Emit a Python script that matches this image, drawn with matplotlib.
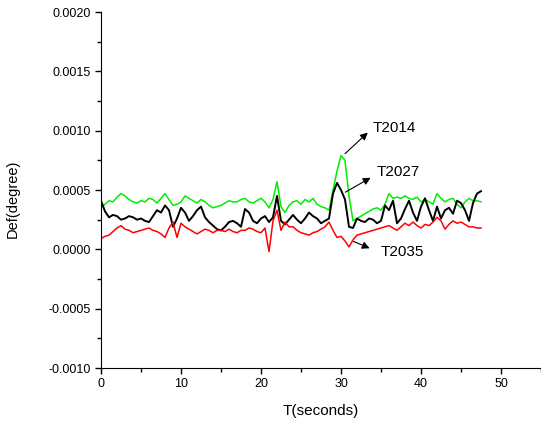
import numpy as np
import matplotlib
matplotlib.use('Agg')
from matplotlib import pyplot as plt
from matplotlib.ticker import MultipleLocator, FormatStrFormatter

plt.rcParams.update({'font.family': ['Liberation Sans', 'DejaVu Sans']})

# time axis (seconds), one reading every 0.5 s
t = np.arange(0, 48, 0.5)

# deflection readings (degree)
t2014 = [0.00035, 0.00038, 0.00041, 0.00040, 0.00044, 0.00047, 0.00045, 0.00042,
         0.00040, 0.00039, 0.00041, 0.00040, 0.00043, 0.00042, 0.00039, 0.00043,
         0.00047, 0.00042, 0.00037, 0.00038, 0.00040, 0.00045, 0.00043, 0.00041,
         0.00039, 0.00042, 0.00040, 0.00037, 0.00035, 0.00036, 0.00037, 0.00039,
         0.00041, 0.00040, 0.00040, 0.00042, 0.00043, 0.00040, 0.00039, 0.00041,
         0.00043, 0.00040, 0.00035, 0.00042, 0.00057, 0.00036, 0.00031, 0.00037,
         0.00040, 0.00041, 0.00038, 0.00042, 0.00040, 0.00043, 0.00038, 0.00036,
         0.00035, 0.00033, 0.00050, 0.00066, 0.00079, 0.00075, 0.00045, 0.00024,
         0.00026, 0.00028, 0.00030, 0.00032, 0.00034, 0.00035, 0.00033, 0.00038,
         0.00047, 0.00043, 0.00044, 0.00043, 0.00045, 0.00043, 0.00042, 0.00044,
         0.00040, 0.00042, 0.00040, 0.00038, 0.00047, 0.00043, 0.00040, 0.00042,
         0.00043, 0.00038, 0.00035, 0.00040, 0.00043, 0.00041, 0.00041, 0.00040]

t2027 = [0.00041, 0.00032, 0.00027, 0.00029, 0.00028, 0.00025, 0.00026, 0.00028,
         0.00027, 0.00025, 0.00026, 0.00024, 0.00023, 0.00028, 0.00033, 0.00031,
         0.00037, 0.00033, 0.00019, 0.00026, 0.00035, 0.00031, 0.00024, 0.00028,
         0.00033, 0.00036, 0.00027, 0.00023, 0.00020, 0.00017, 0.00016, 0.00019,
         0.00023, 0.00024, 0.00022, 0.00019, 0.00034, 0.00031, 0.00024, 0.00022,
         0.00026, 0.00028, 0.00023, 0.00027, 0.00045, 0.00024, 0.00021, 0.00025,
         0.00029, 0.00025, 0.00022, 0.00026, 0.00031, 0.00028, 0.00026, 0.00022,
         0.00024, 0.00026, 0.00047, 0.00056, 0.00050, 0.00042, 0.00019, 0.00018,
         0.00026, 0.00024, 0.00023, 0.00026, 0.00025, 0.00022, 0.00024, 0.00037,
         0.00033, 0.00041, 0.00022, 0.00026, 0.00034, 0.00041, 0.00031, 0.00024,
         0.00036, 0.00043, 0.00033, 0.00024, 0.00036, 0.00026, 0.00033, 0.00035,
         0.00030, 0.00041, 0.00039, 0.00033, 0.00024, 0.00039, 0.00047, 0.00049]

t2035 = [0.00009, 0.00011, 0.00012, 0.00015, 0.00018, 0.00020, 0.00017, 0.00016,
         0.00014, 0.00015, 0.00016, 0.00017, 0.00018, 0.00016, 0.00015, 0.00013,
         0.00010, 0.00018, 0.00023, 0.00010, 0.00022, 0.00019, 0.00017, 0.00015,
         0.00013, 0.00015, 0.00017, 0.00016, 0.00014, 0.00016, 0.00016, 0.00015,
         0.00017, 0.00015, 0.00014, 0.00016, 0.00016, 0.00018, 0.00017, 0.00015,
         0.00014, 0.00018, -0.00002, 0.00024, 0.00033, 0.00016, 0.00023, 0.00019,
         0.00019, 0.00016, 0.00014, 0.00013, 0.00012, 0.00014, 0.00015, 0.00017,
         0.00019, 0.00023, 0.00016, 0.00010, 0.00011, 0.00007, 0.00002, 0.00008,
         0.00012, 0.00013, 0.00014, 0.00015, 0.00016, 0.00017, 0.00018, 0.00019,
         0.00020, 0.00018, 0.00016, 0.00019, 0.00022, 0.00020, 0.00023, 0.00020,
         0.00018, 0.00021, 0.00020, 0.00023, 0.00027, 0.00024, 0.00017, 0.00021,
         0.00024, 0.00022, 0.00023, 0.00021, 0.00019, 0.00019, 0.00018, 0.00018]

# set up figure
fig = plt.figure(figsize=(5.41, 4.23), dpi=100)
ax = fig.add_axes([0.1867, 0.130, 0.8133, 0.8416])

ax.plot(t, t2014, color='#00ee00', lw=1.1)
ax.plot(t, t2027, color='black', lw=1.4)
ax.plot(t, t2035, color='#ff0000', lw=1.1)

ax.set_xlim(0, 55)
ax.set_ylim(-0.001, 0.002)
ax.xaxis.set_major_locator(MultipleLocator(10))
ax.xaxis.set_minor_locator(MultipleLocator(5))
ax.yaxis.set_major_locator(MultipleLocator(0.0005))
ax.yaxis.set_minor_locator(MultipleLocator(0.00025))
ax.yaxis.set_major_formatter(FormatStrFormatter('%.4f'))
ax.tick_params(which='major', direction='out', length=4, width=1, labelsize=9)
ax.tick_params(which='minor', direction='out', length=3, width=1)

ax.spines['top'].set_visible(False)
ax.spines['right'].set_visible(False)

ax.set_xlabel('T(seconds)', fontsize=11, labelpad=10)
ax.set_ylabel('Def(degree)', fontsize=10.5)
ax.yaxis.set_label_coords(-0.185, 0.475)

# labels with arrows
arrow = dict(arrowstyle='<|-', color='black', lw=0.8, mutation_scale=11)
ax.annotate('', xy=(30.25, 0.00079), xytext=(33.6, 0.00100), arrowprops=arrow)
ax.annotate('', xy=(30.25, 0.00047), xytext=(34.0, 0.000615), arrowprops=arrow)
ax.annotate('', xy=(31.25, 0.000076), xytext=(33.9, 0.0), arrowprops=arrow)
ax.text(33.9, 0.00102, 'T2014', fontsize=11, va='center', ha='left')
ax.text(34.5, 0.00065, 'T2027', fontsize=11, va='center', ha='left')
ax.text(34.9, -0.000025, 'T2035', fontsize=11, va='center', ha='left')

fig.savefig('out.png', dpi=100)
